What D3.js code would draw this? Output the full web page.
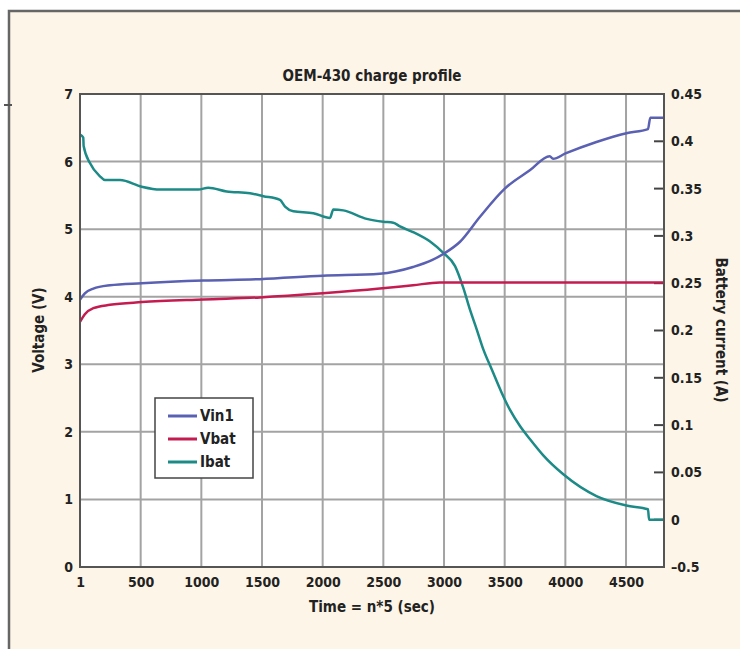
<!DOCTYPE html>
<html>
<head>
<meta charset="utf-8">
<script src="https://cdn.jsdelivr.net/npm/d3@7"></script>
<style>
  body { margin: 0; background: #fff; }
  svg text { font-family: "Liberation Sans Narrow", "DejaVu Sans Condensed", "Roboto Condensed", sans-serif; font-weight: bold; fill: #222; }
</style>
</head>
<body>
<svg id="chart" width="740" height="649"></svg>
<script>
// time index n (x)
const vin1X = [1, 40, 110, 247, 508, 1016, 1483, 2000, 2471, 2745, 2900, 3001, 3130, 3295, 3501, 3707, 3871, 3899, 4001, 4256, 4503, 4681, 4700, 4813];
const vin1V = [3.96, 4.05, 4.12, 4.17, 4.2, 4.24, 4.26, 4.31, 4.34, 4.44, 4.54, 4.64, 4.81, 5.18, 5.6, 5.87, 6.08, 6.04, 6.12, 6.29, 6.42, 6.48, 6.65, 6.65];

const vbatX = [1, 40, 110, 247, 508, 1016, 1483, 2000, 2471, 2745, 2965, 4813];
const vbatV = [3.63, 3.74, 3.83, 3.88, 3.92, 3.96, 3.99, 4.05, 4.12, 4.17, 4.21, 4.21];

const ibatX = [1, 27, 30, 82, 165, 206, 330, 508, 659, 975, 1057, 1209, 1401, 1511, 1648, 1690, 1758, 1923, 2060, 2088, 2170, 2363, 2500, 2582, 2637, 2745, 2885, 2994, 3091, 3159, 3214, 3270, 3324, 3393, 3476, 3544, 3626, 3709, 3818, 3983, 4256, 4503, 4681, 4690, 4813];
const ibatA = [0.407, 0.404, 0.395, 0.377, 0.363, 0.359, 0.359, 0.352, 0.349, 0.349, 0.351, 0.347, 0.345, 0.342, 0.338, 0.331, 0.326, 0.324, 0.319, 0.328, 0.327, 0.318, 0.315, 0.314, 0.31, 0.304, 0.294, 0.282, 0.268, 0.245, 0.222, 0.201, 0.18, 0.159, 0.134, 0.116, 0.099, 0.085, 0.068, 0.048, 0.025, 0.015, 0.011, 0.0, 0.0];

const xTicks = [1, 500, 1000, 1500, 2000, 2500, 3000, 3500, 4000, 4500];
const vTicks = [0, 1, 2, 3, 4, 5, 6, 7];
const iTicks = [-0.05, 0, 0.05, 0.1, 0.15, 0.2, 0.25, 0.3, 0.35, 0.4, 0.45];
const iTickLabels = ["\u20130.5", "0", "0.05", "0.1", "0.15", "0.2", "0.25", "0.3", "0.35", "0.4", "0.45"];

const seriesNames = ["Vin1", "Vbat", "Ibat"];
const seriesColors = ["#5a60b2", "#c41c50", "#1c8a86"];

const svg = d3.select("#chart");
const plot = {left: 80, right: 664, top: 94, bottom: 567};

// cream panel with frame
svg.append("rect").attr("x", 9).attr("y", 11).attr("width", 740).attr("height", 650)
  .attr("fill", "#fdf5e7").attr("stroke", "#666").attr("stroke-width", 2.5);
svg.append("line").attr("x1", 4).attr("x2", 12).attr("y1", 105).attr("y2", 105)
  .attr("stroke", "#555").attr("stroke-width", 2);

const x = d3.scaleLinear().domain([0, 4813]).range([plot.left, plot.right]);
const yV = d3.scaleLinear().domain([0, 7]).range([plot.bottom, plot.top]);
const yI = d3.scaleLinear().domain([-0.05, 0.45]).range([plot.bottom, plot.top]);

svg.append("rect").attr("x", plot.left).attr("y", plot.top)
  .attr("width", plot.right - plot.left).attr("height", plot.bottom - plot.top).attr("fill", "#fff");

// grid
const grid = svg.append("g").attr("stroke", "#a3a3a3").attr("stroke-width", 2);
grid.selectAll(".vg").data(xTicks.slice(1)).enter().append("line")
  .attr("x1", d => x(d)).attr("x2", d => x(d)).attr("y1", plot.top).attr("y2", plot.bottom);
grid.selectAll(".hg").data(vTicks.slice(1, -1)).enter().append("line")
  .attr("x1", plot.left).attr("x2", plot.right).attr("y1", d => yV(d)).attr("y2", d => yV(d));

// right axis inner ticks
svg.append("g").attr("stroke", "#444").attr("stroke-width", 2)
  .selectAll("line").data(iTicks.slice(1, -1)).enter().append("line")
  .attr("x1", plot.right - 10).attr("x2", plot.right).attr("y1", d => yI(d)).attr("y2", d => yI(d));

// series
const lineOf = (xs, ys, yScale) => d3.line()
  .curve(d3.curveMonotoneX)
  .x((d, i) => x(xs[i])).y(d => yScale(d))(ys);

svg.append("path").attr("d", lineOf(ibatX, ibatA, yI))
  .attr("fill", "none").attr("stroke", seriesColors[2]).attr("stroke-width", 2.5);
svg.append("path").attr("d", lineOf(vbatX, vbatV, yV))
  .attr("fill", "none").attr("stroke", seriesColors[1]).attr("stroke-width", 2.5);
svg.append("path").attr("d", lineOf(vin1X, vin1V, yV))
  .attr("fill", "none").attr("stroke", seriesColors[0]).attr("stroke-width", 2.5);

// plot frame
svg.append("rect").attr("x", plot.left).attr("y", plot.top)
  .attr("width", plot.right - plot.left).attr("height", plot.bottom - plot.top)
  .attr("fill", "none").attr("stroke", "#555").attr("stroke-width", 2);

// axes
const xAxis = svg.append("g").attr("transform", `translate(0,${plot.bottom})`)
  .call(d3.axisBottom(x).tickValues(xTicks).tickSize(0).tickPadding(8).tickFormat(d3.format("d")));
const yAxisL = svg.append("g").attr("transform", `translate(${plot.left},0)`)
  .call(d3.axisLeft(yV).tickValues(vTicks).tickSize(0).tickPadding(7).tickFormat(d3.format("d")));
const yAxisR = svg.append("g").attr("transform", `translate(${plot.right},0)`)
  .call(d3.axisRight(yI).tickValues(iTicks).tickSize(0).tickPadding(7)
    .tickFormat((d, i) => iTickLabels[i]));
[xAxis, yAxisL, yAxisR].forEach(a => {
  a.select(".domain").remove();
  a.selectAll("text").attr("font-size", 14);
});
xAxis.selectAll("text").attr("dy", "0.85em");

// titles
svg.append("text").attr("x", 372).attr("y", 81).attr("text-anchor", "middle")
  .attr("font-size", 15).text("OEM-430 charge profile");
svg.append("text").attr("x", 372).attr("y", 612).attr("text-anchor", "middle")
  .attr("font-size", 15).text("Time = n*5 (sec)");
svg.append("text").attr("transform", "translate(44,330) rotate(-90)").attr("text-anchor", "middle")
  .attr("font-size", 15).text("Voltage (V)");
svg.append("text").attr("transform", "translate(716,330) rotate(90)").attr("text-anchor", "middle")
  .attr("font-size", 15).text("Battery current (A)");

// legend
const lg = svg.append("g").attr("transform", "translate(155,398)");
lg.append("rect").attr("width", 98).attr("height", 80)
  .attr("fill", "#fff").attr("stroke", "#444").attr("stroke-width", 1.5);
seriesNames.forEach((name, i) => {
  const yy = 18 + i * 23;
  lg.append("line").attr("x1", 13).attr("x2", 42).attr("y1", yy).attr("y2", yy)
    .attr("stroke", seriesColors[i]).attr("stroke-width", 3);
  lg.append("text").attr("x", 45).attr("y", yy).attr("dy", "0.35em")
    .attr("font-size", 15).text(name);
});
</script>
</body>
</html>
